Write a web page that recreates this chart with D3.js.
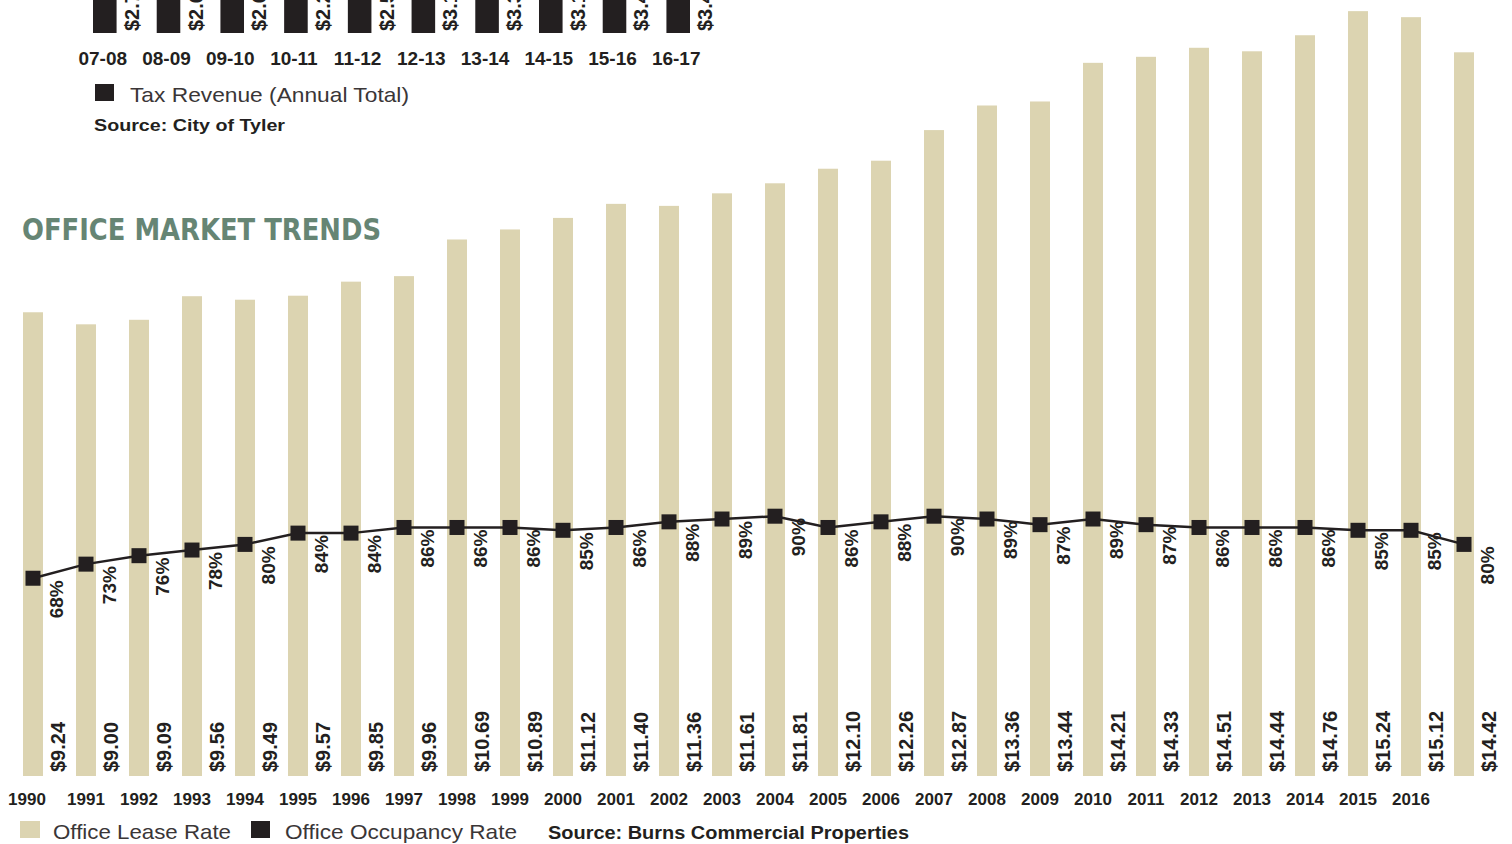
<!DOCTYPE html>
<html>
<head>
<meta charset="utf-8">
<script src="https://cdn.jsdelivr.net/npm/d3@7"></script>
<style>
  body { margin: 0; background: #ffffff; }
  svg  { display: block; font-family: "Liberation Sans", Arial, Helvetica, sans-serif; }
</style>
</head>
<body>
<svg id="chart" width="1512" height="844"></svg>
<script>
////////////////////////////////////////////////////////////////////////
//
// data
//
////////////////////////////////////////////////////////////////////////
var years = ["1990","1991","1992","1993","1994","1995","1996","1997","1998","1999",
             "2000","2001","2002","2003","2004","2005","2006","2007","2008","2009",
             "2010","2011","2012","2013","2014","2015","2016","2017"];

var leaseRates = [9.24, 9.00, 9.09, 9.56, 9.49, 9.57, 9.85, 9.96, 10.69, 10.89,
                  11.12, 11.40, 11.36, 11.61, 11.81, 12.10, 12.26, 12.87, 13.36, 13.44,
                  14.21, 14.33, 14.51, 14.44, 14.76, 15.24, 15.12, 14.42];

var occupancyRates = [68, 73, 76, 78, 80, 84, 84, 86, 86, 86,
                      85, 86, 88, 89, 90, 86, 88, 90, 89, 87,
                      89, 87, 86, 86, 86, 85, 85, 80];

// the page only prints year labels up to 2016
var yearTickLabels = ["1990","1991","1992","1993","1994","1995","1996","1997","1998","1999",
                      "2000","2001","2002","2003","2004","2005","2006","2007","2008","2009",
                      "2010","2011","2012","2013","2014","2015","2016"];

// upper chart is cut off by the page edge, values are best guesses
var taxPeriods = ["07-08","08-09","09-10","10-11","11-12","12-13","13-14","14-15","15-16","16-17"];
var taxRevenue = [2.71, 2.62, 2.60, 2.25, 2.59, 3.14, 3.35, 3.17, 3.42, 3.45];

var TAN   = "#dcd4b1";
var INK   = "#231f20";
var GREEN = "#668574";

var svg = d3.select("#chart");


////////////////////////////////////////////////////////////////////////
//
// upper (cropped) tax revenue chart
//
////////////////////////////////////////////////////////////////////////
function drawTaxChart()
    {
    var x = d3.scaleBand().domain(taxPeriods).range([93, 690]).paddingInner(0.63);
    var y = d3.scaleLinear().domain([0, 3.5]).range([33, -150]);

    var g = svg.append("g");

    g.selectAll("rect.tax")
        .data(taxRevenue)
        .enter()
        .append("rect")
        .attr("class", "tax")
        .attr("x", function(d, i) { return x(taxPeriods[i]); })
        .attr("y", function(d) { return y(d); })
        .attr("width", x.bandwidth())
        .attr("height", function(d) { return y(0) - y(d); })
        .attr("fill", INK);

    g.selectAll("text.taxval")
        .data(taxRevenue)
        .enter()
        .append("text")
        .attr("class", "taxval")
        .attr("transform", function(d, i)
            {
            var cx = x(taxPeriods[i]) + x.bandwidth() / 2 + 34;
            return "translate(" + cx + ",31) rotate(-90)";
            })
        .attr("font-size", 20)
        .attr("font-weight", "bold")
        .attr("fill", INK)
        .text(function(d) { return "$" + d3.format(".2f")(d) + "M"; });

    g.selectAll("text.period")
        .data(taxPeriods)
        .enter()
        .append("text")
        .attr("class", "period")
        .attr("x", function(d) { return x(d) + x.bandwidth() / 2 - 2; })
        .attr("y", 65)
        .attr("text-anchor", "middle")
        .attr("font-size", 19)
        .attr("font-weight", "bold")
        .attr("fill", INK)
        .text(function(d) { return d; });

    // legend + source
    g.append("rect").attr("x", 95).attr("y", 84).attr("width", 19).attr("height", 17).attr("fill", INK);
    g.append("text").attr("x", 130).attr("y", 102)
        .attr("font-size", 21).attr("fill", "#3a3637")
        .attr("textLength", 279).attr("lengthAdjust", "spacingAndGlyphs")
        .text("Tax Revenue (Annual Total)");
    g.append("text").attr("x", 94).attr("y", 131)
        .attr("font-size", 17).attr("font-weight", "bold").attr("fill", INK)
        .attr("textLength", 191).attr("lengthAdjust", "spacingAndGlyphs")
        .text("Source: City of Tyler");
    }


////////////////////////////////////////////////////////////////////////
//
// office market trends -- lease bars + occupancy line
//
////////////////////////////////////////////////////////////////////////
function drawOfficeChart()
    {
    var x = d3.scaleBand().domain(years).range([23, 1474]).paddingInner(0.623);
    var yLease = d3.scaleLinear().domain([0, 16]).range([776, -27]);
    var yOcc = d3.scaleLinear().domain([0, 100]).range([770, 488]);

    var cx = function(i) { return x(years[i]) + x.bandwidth() / 2; };

    var g = svg.append("g");

    // title
    g.append("text")
        .attr("x", 22).attr("y", 240)
        .attr("font-family", "'Liberation Sans Narrow', 'DejaVu Sans Condensed', 'Liberation Sans', sans-serif")
        .attr("font-size", 31).attr("font-weight", "bold")
        .attr("fill", GREEN)
        .attr("textLength", 359).attr("lengthAdjust", "spacingAndGlyphs")
        .text("OFFICE MARKET TRENDS");

    // bars
    g.selectAll("rect.lease")
        .data(leaseRates)
        .enter()
        .append("rect")
        .attr("class", "lease")
        .attr("x", function(d, i) { return x(years[i]); })
        .attr("y", function(d) { return yLease(d); })
        .attr("width", x.bandwidth())
        .attr("height", function(d) { return yLease(0) - yLease(d); })
        .attr("fill", TAN);

    // lease labels (rotated, bottom)
    g.selectAll("text.leaseval")
        .data(leaseRates)
        .enter()
        .append("text")
        .attr("class", "leaseval")
        .attr("transform", function(d, i) { return "translate(" + (cx(i) + 32) + ",772) rotate(-90)"; })
        .attr("font-size", 20)
        .attr("font-weight", "bold")
        .attr("fill", INK)
        .text(function(d) { return "$" + d3.format(".2f")(d); });

    // occupancy line
    var line = d3.line()
        .x(function(d, i) { return cx(i); })
        .y(function(d) { return yOcc(d); });

    g.append("path")
        .datum(occupancyRates)
        .attr("d", line)
        .attr("fill", "none")
        .attr("stroke", INK)
        .attr("stroke-width", 2.5);

    g.selectAll("rect.occ")
        .data(occupancyRates)
        .enter()
        .append("rect")
        .attr("class", "occ")
        .attr("x", function(d, i) { return cx(i) - 7.5; })
        .attr("y", function(d) { return yOcc(d) - 7.5; })
        .attr("width", 15)
        .attr("height", 15)
        .attr("fill", INK);

    g.selectAll("text.occval")
        .data(occupancyRates)
        .enter()
        .append("text")
        .attr("class", "occval")
        .attr("transform", function(d, i) { return "translate(" + (cx(i) + 30) + "," + (yOcc(d) + 2) + ") rotate(-90)"; })
        .attr("text-anchor", "end")
        .attr("font-size", 19)
        .attr("font-weight", "bold")
        .attr("fill", INK)
        .text(function(d) { return d + "%"; });

    // year axis labels
    g.selectAll("text.year")
        .data(yearTickLabels)
        .enter()
        .append("text")
        .attr("class", "year")
        .attr("x", function(d) { return x(d) + x.bandwidth() / 2 - (d === "1990" ? 6 : 0); })
        .attr("y", 805)
        .attr("text-anchor", "middle")
        .attr("font-size", 17)
        .attr("font-weight", "bold")
        .attr("fill", INK)
        .text(function(d) { return d; });

    // legend
    g.append("rect").attr("x", 20).attr("y", 821).attr("width", 20).attr("height", 17).attr("fill", TAN);
    g.append("text").attr("x", 53).attr("y", 839)
        .attr("font-size", 21).attr("fill", "#3a3637")
        .attr("textLength", 178).attr("lengthAdjust", "spacingAndGlyphs")
        .text("Office Lease Rate");
    g.append("rect").attr("x", 251).attr("y", 821).attr("width", 19).attr("height", 17).attr("fill", INK);
    g.append("text").attr("x", 285).attr("y", 839)
        .attr("font-size", 21).attr("fill", "#3a3637")
        .attr("textLength", 232).attr("lengthAdjust", "spacingAndGlyphs")
        .text("Office Occupancy Rate");
    g.append("text").attr("x", 548).attr("y", 839)
        .attr("font-size", 18).attr("font-weight", "bold").attr("fill", INK)
        .attr("textLength", 361).attr("lengthAdjust", "spacingAndGlyphs")
        .text("Source: Burns Commercial Properties");
    }


drawTaxChart();
drawOfficeChart();
</script>
</body>
</html>
